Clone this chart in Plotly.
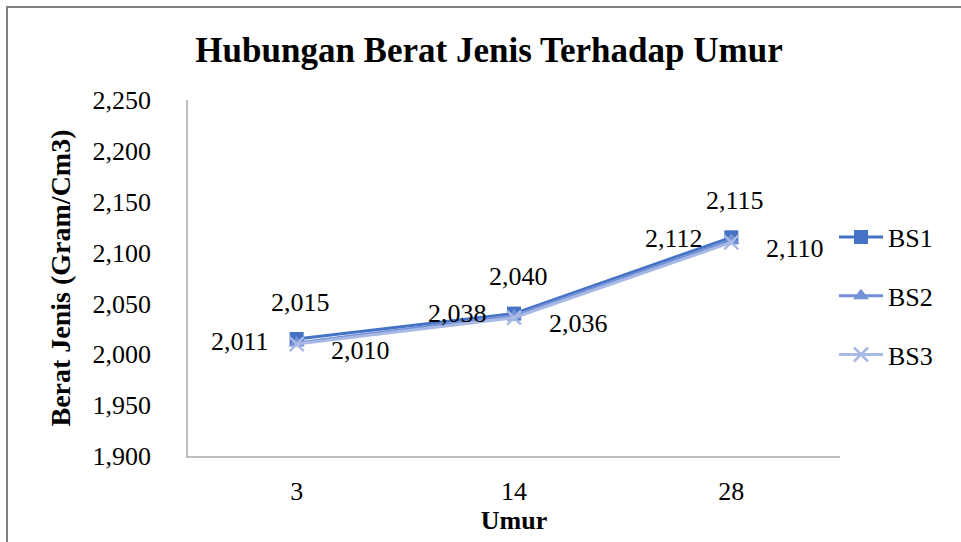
import plotly.graph_objects as go

categories = ["3", "14", "28"]
bs1 = [2.015, 2.040, 2.115]
bs2 = [2.011, 2.038, 2.112]
bs3 = [2.010, 2.036, 2.110]
series_names = ["BS1", "BS2", "BS3"]
y_ticks = [1.90, 1.95, 2.00, 2.05, 2.10, 2.15, 2.20, 2.25]

colors = ["#4472C4", "#7391D6", "#A9B9E6"]
symbols = ["square", "triangle-up", "x-thin"]
FONT = "Liberation Serif"
FS = 26

L, R, T, B = 188, 121, 100, 86
W, H = 961, 542
pw, ph = W - L - R, H - T - B

fig = go.Figure()
for name, vals, c, s in zip(series_names, [bs1, bs2, bs3], colors, symbols):
    marker = dict(symbol=s, size=14, color=c)
    if s == "x-thin":
        marker = dict(symbol=s, size=14, color=c, line=dict(color=c, width=2.5))
    fig.add_trace(go.Scatter(
        x=categories, y=vals, name=name, mode="lines+markers",
        line=dict(color=c, width=3), marker=marker,
        legendgroup=name,
    ))

# data labels
label_shift = {"BS1": (4, 37), "BS2": (-57, 2), "BS3": (64, -6)}
annotations = []
for name, vals in zip(series_names, [bs1, bs2, bs3]):
    dx, dy = label_shift[name]
    for i, v in enumerate(vals):
        annotations.append(dict(
            x=i, y=v, xref="x", yref="y",
            text=f"{v:.3f}".replace(".", ","),
            showarrow=False, xshift=dx, yshift=dy,
            font=dict(family=FONT, size=FS, color="#000000"),
        ))

fig.update_layout(
    width=W, height=H,
    margin=dict(l=L, r=R, t=T, b=B, pad=0, autoexpand=False),
    paper_bgcolor="white", plot_bgcolor="white",
    separators=",.",
    font=dict(family=FONT, size=FS, color="#000000"),
    title=dict(text="<b>Hubungan Berat Jenis Terhadap Umur</b>",
               x=489 / W, xanchor="center", y=1 - 50 / H, yanchor="middle",
               xref="container", yref="container",
               font=dict(family=FONT, size=35, color="#000000")),
    xaxis=dict(type="category", range=[-0.5, 2.5], showgrid=False,
               showline=True, linecolor="#BFBFBF", linewidth=1.5,
               ticks="", ticklabelstandoff=11, automargin=False,
               title=dict(text="<b>Umur</b>", standoff=0,
                          font=dict(family=FONT, size=FS))),
    yaxis=dict(range=[1.9, 2.25], tickvals=y_ticks, tickformat=".3f",
               showgrid=False, zeroline=False, automargin=False,
               showline=True, linecolor="#BFBFBF", linewidth=1.5,
               ticks="", ticklabelstandoff=30,
               title=dict(text="<b>Berat Jenis (Gram/Cm3)</b>", standoff=14,
                          font=dict(family=FONT, size=28))),
    legend=dict(x=(834 - L) / pw, xanchor="left", y=(H - B - 296) / ph,
                yanchor="middle", bgcolor="rgba(0,0,0,0)",
                font=dict(family=FONT, size=FS), tracegroupgap=22,
                itemwidth=44),
    annotations=annotations,
    shapes=[dict(type="rect", xref="paper", yref="paper",
                 x0=(7 - L) / pw, x1=(W + 20 - L) / pw,
                 y0=-(B + 20) / ph, y1=(H - B - 7) / ph,
                 line=dict(color="#808080", width=2), layer="below")],
)

fig.write_html("out.html", config={"displayModeBar": False},
               post_script="document.body.style.margin='0';document.body.style.overflow='hidden';")
